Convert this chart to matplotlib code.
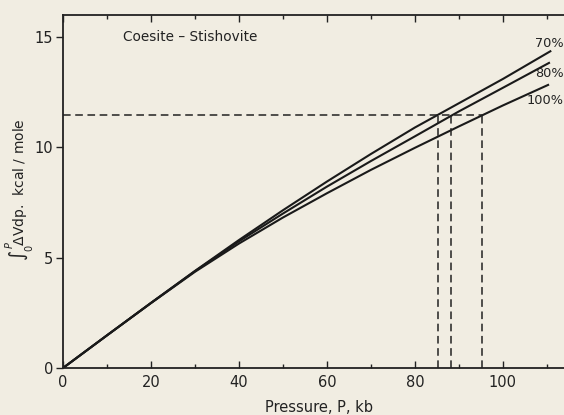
import matplotlib
matplotlib.use("Agg")
import matplotlib.pyplot as plt
from matplotlib.ticker import MultipleLocator

# Data
pressure_70 = [0, 10, 20, 30, 40, 50, 60, 70, 80, 90, 100, 111]
integral_70 = [0, 1.48, 2.95, 4.40, 5.80, 7.15, 8.45, 9.70, 10.90, 12.00, 13.10, 14.38]
pressure_80 = [0, 10, 20, 30, 40, 50, 60, 70, 80, 90, 100, 110.7]
integral_80 = [0, 1.48, 2.95, 4.39, 5.74, 7.00, 8.22, 9.38, 10.50, 11.63, 12.70, 13.85]
pressure_100 = [0, 10, 20, 30, 40, 50, 60, 70, 80, 90, 100, 110.5]
integral_100 = [0, 1.48, 2.94, 4.36, 5.64, 6.82, 7.92, 8.98, 9.98, 10.95, 11.90, 12.85]
curve_labels = ["70%", "80%", "100%"]

target_level = 11.46
crossing_pressures = [85.3, 88.3, 95.2]

x_ticks = [0, 20, 40, 60, 80, 100]
y_ticks = [0, 5, 10, 15]

bg = "#f1ede2"
fig = plt.figure(figsize=(5.64, 4.15), dpi=100, facecolor=bg)
ax = fig.add_axes([63/564, 1-368/415, 1-63/564, (368-15)/415])
ax.set_facecolor(bg)

for xs, ys in [(pressure_70, integral_70), (pressure_80, integral_80), (pressure_100, integral_100)]:
    ax.plot(xs, ys, color="#1a1a1a", lw=1.5, solid_capstyle="butt")

dash = (0, (5, 3))
ax.plot([0, max(crossing_pressures)], [target_level, target_level], color="#222222", lw=1.1, linestyle=dash)
for xp in crossing_pressures:
    ax.plot([xp, xp], [0, target_level], color="#222222", lw=1.1, linestyle=dash)

label_pos = [(113.8, 14.73), (113.8, 13.37), (113.8, 12.14)]
for lab, (lx, ly) in zip(curve_labels, label_pos):
    ax.text(lx, ly, lab, fontsize=9.3, ha="right", va="center", color="#222222")

ax.text(13.6, 15.0, "Coesite – Stishovite", fontsize=9.8, ha="left", va="center", color="#222222")

ax.set_xlim(0, 113.9)
ax.set_ylim(0, 16.0)
ax.spines["right"].set_visible(False)
for s in ["left", "bottom", "top"]:
    ax.spines[s].set_linewidth(1.3)
    ax.spines[s].set_color("#222222")

ax.set_xticks(x_ticks)
ax.set_xticklabels([str(v) for v in x_ticks])
ax.xaxis.set_minor_locator(MultipleLocator(10))
ax.tick_params(axis="x", which="both", direction="in", top=True, labelsize=10.5,
               colors="#222222", width=1.0, pad=5)
ax.tick_params(axis="x", which="major", length=5)
ax.tick_params(axis="x", which="minor", length=3)
ax.set_yticks(y_ticks)
ax.set_yticklabels([str(v) for v in y_ticks])
ax.tick_params(axis="y", which="major", direction="out", length=5, labelsize=10.5,
               colors="#222222", width=1.0, pad=2)

fig.text(319/564, 1-407/415, "Pressure, P, kb", fontsize=10.5, ha="center", va="center", color="#222222")
fig.text(19/564, 1-190/415, r"$\int_0^P \!\Delta\mathrm{Vdp}$.  kcal / mole", fontsize=10,
         ha="center", va="center", rotation=90, color="#222222")

fig.savefig("out.png", dpi=100, facecolor=bg)
